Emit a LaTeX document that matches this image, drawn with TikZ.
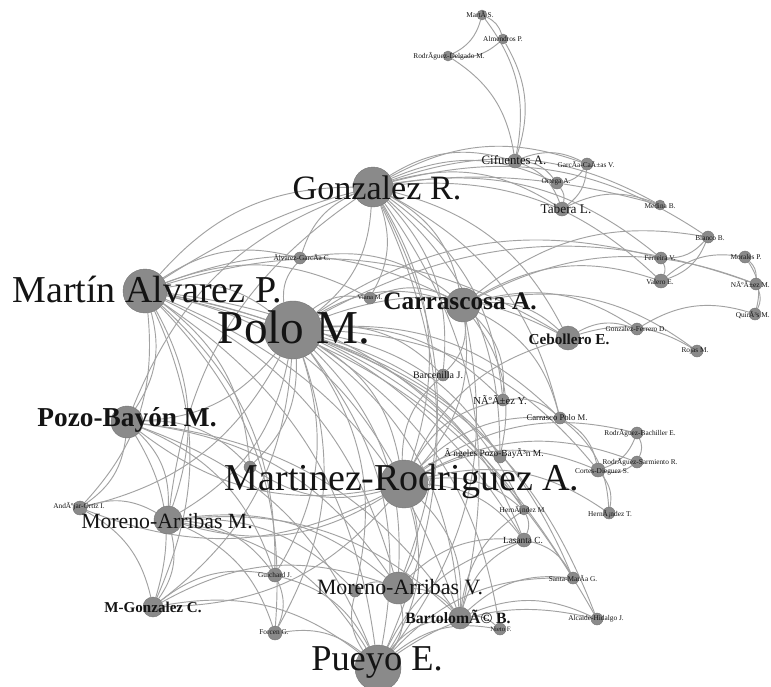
\documentclass[tikz,border=0pt]{standalone}
\usepackage{fontspec}
\setmainfont{Liberation Serif}
\pgfdeclarelayer{bottom}
\pgfdeclarelayer{bg}
\pgfsetlayers{bottom,bg,main}
\newcommand\myfs[1]{\fontsize{#1}{#1}\selectfont}
\definecolor{nodegray}{HTML}{8A8A8A}
\definecolor{edgegray}{HTML}{A2A2A2}
\tikzset{
  dot/.style={circle, fill=nodegray, draw=nodegray!85!black, line width=0.3pt, inner sep=0pt, minimum size={#1*1.5pt}},
  edge/.style={draw=edgegray, line width=0.7pt},
  lab/.style={inner sep=0pt, text=black!92},
  tiny/.style={lab, font=\myfs{5.5}},
}
\begin{document}
\begin{tikzpicture}[x=0.75pt,y=-0.75pt]
\useasboundingbox (0,0) rectangle (771,686);
\begin{pgfonlayer}{bottom}
\fill[white] (0,0) rectangle (771,686);
\end{pgfonlayer}
% ---------- nodes ----------
\node[dot=5] (ms) at (482,15) {};
\node[dot=5] (ap) at (503,39) {};
\node[dot=5] (rd) at (448,56) {};
\node[dot=7] (cif) at (515,161) {};
\node[dot=6] (gcv) at (587,164) {};
\node[dot=6] (ort) at (557,183) {};
\node[dot=7] (tab) at (562,209) {};
\node[dot=5] (med) at (660,205) {};
\node[dot=6] (bis) at (708,237) {};
\node[dot=6] (fer) at (661,258) {};
\node[dot=7] (val) at (661,281) {};
\node[dot=6] (mor) at (745,257) {};
\node[dot=6] (nie) at (756,284) {};
\node[dot=6] (qui) at (755,314) {};
\node[dot=6] (gfd) at (637,329) {};
\node[dot=6] (roj) at (697,351) {};
\node[dot=12] (ceb) at (568,338) {};
\node[dot=17] (ca) at (463,305) {};
\node[dot=20] (gr) at (373,187) {};
\node[dot=22] (map) at (145,291) {};
\node[dot=29] (pm) at (293,330) {};
\node[dot=6] (vaz) at (370,298) {};
\node[dot=6] (agc) at (300,258) {};
\node[dot=6] (bar) at (443,375) {};
\node[dot=6] (nun) at (503,400) {};
\node[dot=6] (cpm) at (560,418) {};
\node[dot=6] (apb) at (500,457) {};
\node[dot=6] (rbe) at (637,433) {};
\node[dot=6] (rsr) at (637,462) {};
\node[dot=7] (cds) at (598,470) {};
\node[dot=6] (htt) at (609,513) {};
\node[dot=5] (hm) at (524,510) {};
\node[dot=7] (las) at (524,540) {};
\node[dot=6] (sag) at (573,578) {};
\node[dot=6] (alj) at (597,619) {};
\node[dot=6] (mtp) at (500,629) {};
\node[dot=11] (bb) at (460,618) {};
\node[dot=16] (mav) at (398,588) {};
\node[dot=6] (smb) at (355,591) {};
\node[dot=23] (pe) at (378,668) {};
\node[dot=7] (gj) at (275,575) {};
\node[dot=7] (fg) at (275,633) {};
\node[dot=10] (mgc) at (153,607) {};
\node[dot=14] (mam) at (168,520) {};
\node[dot=7] (aoi) at (80,508) {};
\node[dot=16] (pb) at (127,422) {};
\node[dot=24] (mra) at (404,484) {};
\node[dot=6] (smc) at (250,467) {};
% ---------- edges ----------
\begin{pgfonlayer}{bg}
\foreach \a/\b in {
 ms/ap, ap/rd, ms/rd, ms/cif, ap/cif, rd/cif,
 cif/gcv, cif/ort, cif/tab, gcv/ort, gcv/tab, ort/tab, gr/cif, gr/ort, gr/tab, tab/med, gr/med, map/med, gr/gcv,
 bis/fer, bis/val, gr/bis, ca/bis, fer/val, gr/fer, gr/val, pm/fer, ca/val, mor/nie, nie/qui, mor/qui, val/mor, ca/nie, pm/nie,
 gfd/qui, ceb/gfd, ca/gfd, ceb/roj, ca/roj,
 gr/ceb, ca/ceb, pm/ceb, mra/ceb, map/ceb,
 map/gr, gr/pm, gr/ca, gr/mra, pb/gr, mam/gr, gr/nun, gr/bar, agc/gr, gr/vaz, gr/mav, gr/pe, gr/bb, gr/apb, gr/cpm,
 map/pm, map/ca, map/agc, map/pb, map/mam, map/mgc, map/aoi, map/mra, map/mav, map/pe, map/bb, map/gj, map/fg, map/hm, map/las, map/sag, map/alj, map/smc, map/vaz,
 pm/ca, pm/agc, pm/vaz, pm/pb, pm/mam, pm/mra, pm/mav, pm/pe, pm/bb, pm/mgc, pm/aoi, pm/bar, pm/nun, pm/cpm, pm/apb, pm/hm, pm/las, pm/sag, pm/alj, pm/mtp, pm/gj, pm/fg, pm/smb, pm/smc, pm/cds,
 ca/mra, ca/nun, ca/bar, vaz/ca, agc/ca, ca/pe, ca/apb, ca/cpm,
 mra/pb, mra/mam, mra/pe, mra/mav, mra/bb, mra/cpm, mra/cds, mra/rbe, mra/rsr, mra/htt, mra/hm, mra/las, mra/apb, mra/nun, mra/bar, mra/mgc, mra/aoi, mra/smc,
 rbe/rsr, rbe/cds, rsr/cds, cds/htt, cpm/cds, nun/cpm, cpm/htt,
 pb/mam, pb/pe, pb/mav, pb/bb, pb/mgc, pb/aoi, pb/gj, pb/smc,
 mam/mgc, aoi/mam, mam/pe, mam/mav, mam/bb, mam/gj, mam/fg, mam/smb,
 aoi/mgc, mgc/pe, mgc/mav, mgc/gj,
 gj/fg, gj/pe, fg/pe,
 mav/pe, mav/bb, smb/mav, mav/las,
 pe/bb, pe/las, pe/sag, pe/alj, pe/mtp, pe/smb,
 bb/las, bb/sag, bb/alj, bb/mtp, bb/hm,
 hm/las, las/sag}
 \path[edge] (\a) to[bend left=24] (\b);
\end{pgfonlayer}
% ---------- labels ----------
\node[tiny] (l-ms) at (480,14) {MartÃ­ S.};
\node[tiny] (l-ap) at (503,39) {Almendros P.};
\node[tiny] (l-rd) at (449,56) {RodrÃ­guez-Delgado M.};
\node[lab, font=\myfs{9.6}] (l-cif) at (514,160) {Cifuentes A.};
\node[tiny] (l-gcv) at (586,164) {GarcÃ­a-CaÃ±as V.};
\node[tiny] (l-ort) at (556,182) {Ortega A.};
\node[lab, font=\myfs{10}] (l-tab) at (566,209) {Tabera L.};
\node[tiny] (l-med) at (660,206) {Medina B.};
\node[tiny] (l-bis) at (710,238) {Blanco B.};
\node[tiny] (l-fer) at (660,258) {Ferreira V.};
\node[tiny] (l-val) at (660,282) {Valero E.};
\node[tiny] (l-mor) at (746,257) {Morales P.};
\node[tiny, anchor=east] (l-nie) at (770,284) {NÃºÃ±ez M.};
\node[tiny, anchor=east] (l-qui) at (770,315) {QuirÃ³s M.};
\node[tiny] (l-gfd) at (636,329) {Gonzalez-Ferrero D.};
\node[tiny] (l-roj) at (695,351) {Rojas M.};
\node[lab, font=\bfseries\myfs{11.4}] (l-ceb) at (569,339) {Cebollero E.};
\node[lab, font=\bfseries\myfs{19}] (l-ca) at (460,301) {Carrascosa A.};
\node[lab, font=\myfs{25.6}] (l-gr) at (377,188) {Gonzalez R.};
\node[lab, font=\myfs{28.5}] (l-map) at (147,290) {Martín Alvarez P.};
\node[lab, font=\myfs{35.4}] (l-pm) at (294,327) {Polo M.};
\node[lab, font=\myfs{5}] (l-vaz) at (370,297) {Viana M.};
\node[tiny] (l-agc) at (302,257) {Ãlvarez-GarcÃ­a C.};
\node[lab, font=\myfs{7.5}] (l-bar) at (438,375) {Barcenilla J.};
\node[lab, font=\myfs{8}] (l-nun) at (500,400) {NÃºÃ±ez Y.};
\node[lab, font=\myfs{6.5}] (l-cpm) at (557,418) {Carrasco Polo M.};
\node[lab, font=\myfs{7}] (l-apb) at (494,454) {Ã ngeles Pozo-BayÃ³n M.};
\node[tiny] (l-rbe) at (640,433) {RodrÃ­guez-Bachiller E.};
\node[tiny] (l-rsr) at (640,462) {RodrÃ­guez-Sarmiento R.};
\node[tiny] (l-cds) at (602,472) {Cortes-Dieguez S.};
\node[tiny] (l-htt) at (610,514) {HernÃ¡ndez T.};
\node[tiny] (l-hm) at (522,510) {HernÃ¡ndez M};
\node[lab, font=\myfs{7}] (l-las) at (523,540) {Lasanta C.};
\node[tiny] (l-sag) at (573,578) {Santa-MarÃ­a G.};
\node[tiny] (l-alj) at (596,619) {Alcaide-Hidalgo J.};
\node[lab, font=\myfs{5}] (l-mtp) at (501,629) {Nieto F.};
\node[lab, font=\bfseries\myfs{11.8}] (l-bb) at (458,617) {BartolomÃ© B.};
\node[lab, font=\myfs{16.4}] (l-mav) at (400,587) {Moreno-Arribas V.};
\node[lab, font=\myfs{27.3}] (l-pe) at (377,663) {Pueyo E.};
\node[tiny] (l-gj) at (275,575) {Guichard J.};
\node[tiny] (l-fg) at (274,632) {Forcen G.};
\node[lab, font=\bfseries\myfs{11.3}] (l-mgc) at (153,607) {M-Gonzalez C.};
\node[lab, font=\myfs{16.3}] (l-mam) at (167,521) {Moreno-Arribas M.};
\node[tiny] (l-aoi) at (79,506) {AndÃºjar-Ortiz I.};
\node[lab, font=\bfseries\myfs{20.5}] (l-pb) at (127,420) {Pozo-Bayón M.};
\node[lab, font=\myfs{28.5}] (l-mra) at (402,481) {Martinez-Rodriguez A.};
\end{tikzpicture}
\end{document}
